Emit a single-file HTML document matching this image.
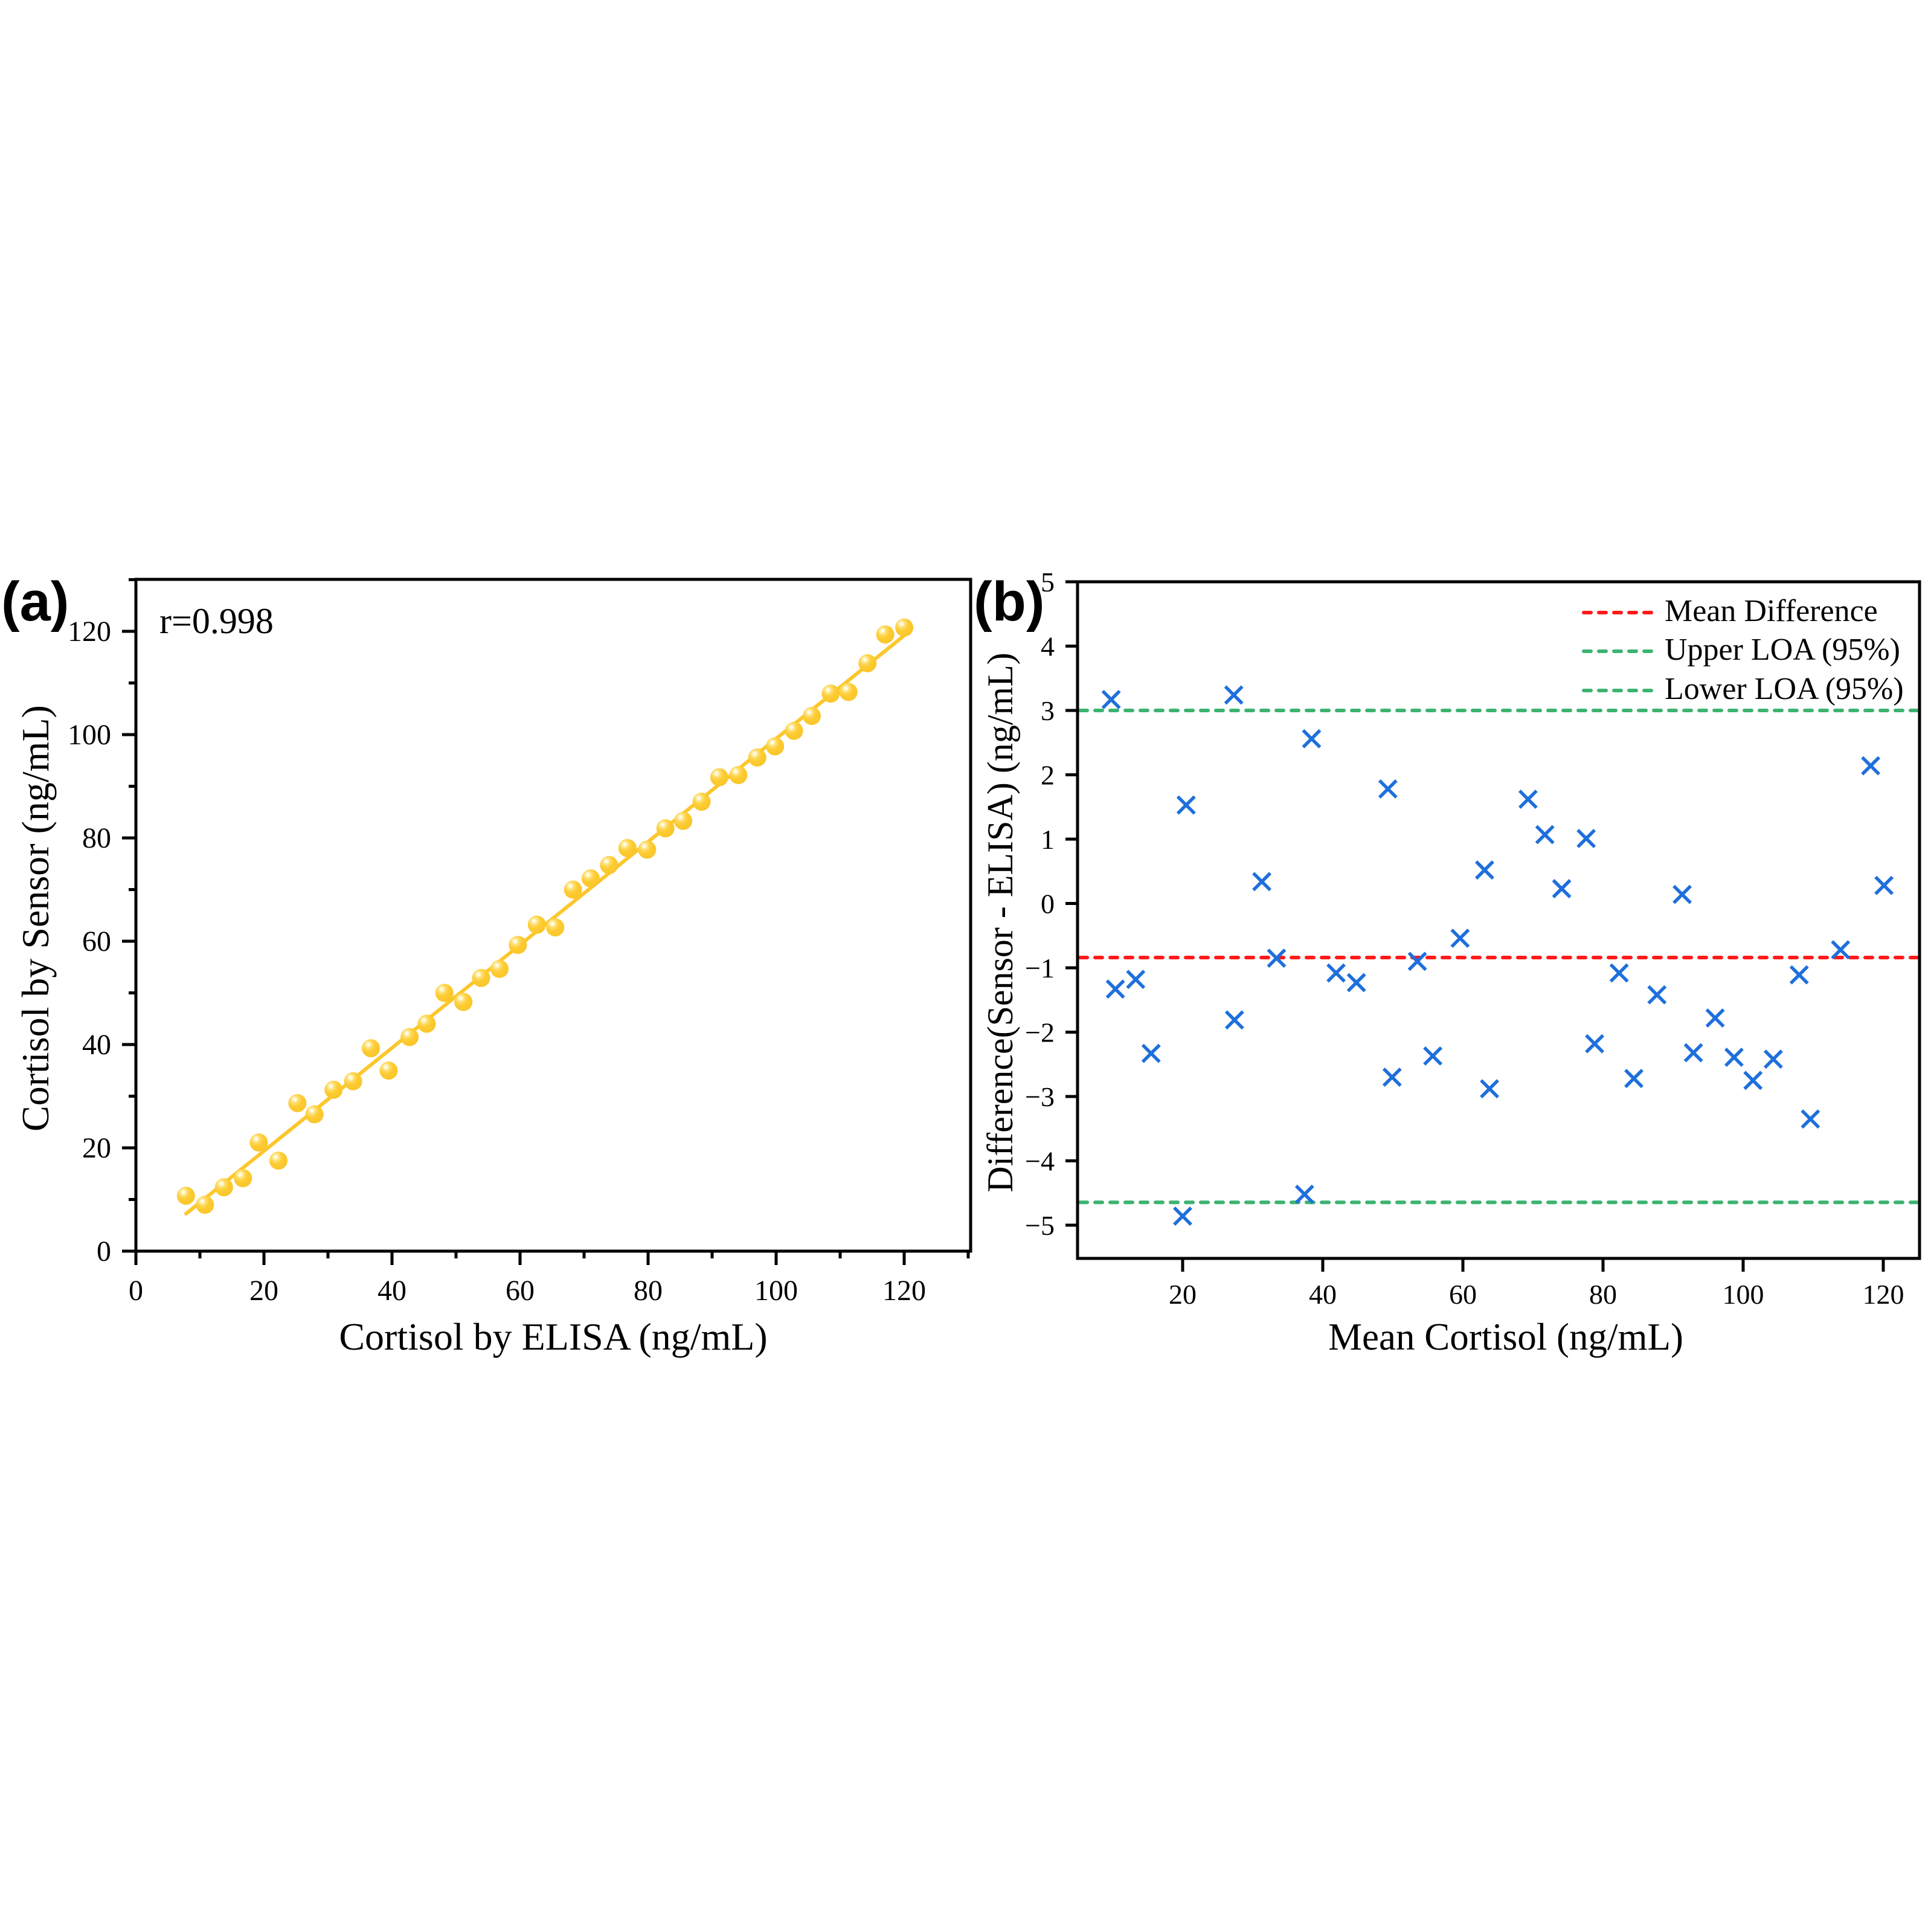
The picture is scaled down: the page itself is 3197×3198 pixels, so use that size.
<!DOCTYPE html>
<html><head><meta charset="utf-8"><style>
html,body{margin:0;padding:0;background:#fff;}
svg{display:block;}
text{font-family:"Liberation Serif",serif;fill:#000;}
</style></head><body>
<svg id="s" xmlns="http://www.w3.org/2000/svg" width="3197" height="3198" viewBox="0 0 3197 3198">
<defs>
<radialGradient id="g" cx="0.35" cy="0.3" r="0.75">
<stop offset="0" stop-color="#ffffff"/>
<stop offset="0.12" stop-color="#fff6c8"/>
<stop offset="0.3" stop-color="#fedb66"/>
<stop offset="0.55" stop-color="#fdcb30"/>
<stop offset="1" stop-color="#f9c52a"/>
</radialGradient>
</defs>
<rect width="3197" height="3198" fill="#fff"/>
<g id="A"></g>
<g id="B"></g>
</svg>
<script>
var NS="http://www.w3.org/2000/svg";
function el(p,t,a,txt){var e=document.createElementNS(NS,t);for(var k in a)e.setAttribute(k,a[k]);if(txt!=null)e.textContent=txt;p.appendChild(e);return e;}
var A=document.getElementById('A'),B=document.getElementById('B');
var aL=225,aR=1607,aT=959,aB=2071;
function ax(v){return aL+v*10.6;} function ay(v){return aB-v*8.55;}
el(A,'line',{x1:308,y1:2009,x2:1497,y2:1052,stroke:'#fcc72c','stroke-width':6,'stroke-linecap':'round'});
var pa=[[292,1226],[322,1243],[352,1210],[382,1193],[407,1126],[438,1160],[468,1052],[495,1073],[525,1027],[556,1011],[584,949],[612,991],[645,928],[672,903],[700,845],[730,862],[758,817],[787,800],[816,755],[846,717],[875,722],[903,651],[931,630],[960,605],[989,573],[1020,576],[1049,536],[1077,522],[1106,486],[1134,440],[1164,436],[1194,403],[1222,382],[1252,353],[1280,325],[1310,283],[1338,280],[1368,226],[1396,172],[1426,159]];
pa.forEach(function(p){var x=225+(p[0]-213)*1.0487,y=2071-(1330-p[1])*0.8815;el(A,'circle',{cx:x,cy:y,r:15,fill:'url(#g)'});});
el(A,'rect',{x:aL,y:aT,width:aR-aL,height:aB-aT,fill:'none',stroke:'#000','stroke-width':5});
for(var v=0;v<=130;v+=10){var maj=v%20==0;var x=ax(v);el(A,'line',{x1:x,y1:aB,x2:x,y2:aB+(maj?23:12),stroke:'#000','stroke-width':5});
 if(maj&&v<=120)el(A,'text',{x:x,y:2152,'font-size':48,'text-anchor':'middle'},v);
 var y=ay(v);el(A,'line',{x1:aL,y1:y,x2:aL-(maj?23:12),y2:y,stroke:'#000','stroke-width':5});
 if(maj&&v<=120)el(A,'text',{x:184,y:y+16,'font-size':48,'text-anchor':'end'},v);}
el(A,'text',{x:916,y:2234,'font-size':64,'text-anchor':'middle'},'Cortisol by ELISA (ng/mL)');
el(A,'text',{x:0,y:0,'font-size':64,'text-anchor':'middle',transform:'translate(80,1520) rotate(-90)'},'Cortisol by Sensor (ng/mL)');
el(A,'text',{x:264,y:1048,'font-size':60},'r=0.998');
el(A,'text',{x:2,y:1027,'font-size':92,'font-weight':'bold',style:'font-family:"Liberation Sans",sans-serif'},'(a)');
var bL=1784,bR=3178,bT=963,bB=2083;
function bx(v){return 1958+(v-20)*11.6;} function by(v){return bT+(5-v)*106.5;}
[[by(3.0),'#3cb371'],[by(-4.645),'#3cb371'],[by(-0.84),'#ff1a1a']].forEach(function(l){el(B,'line',{x1:bL+4,y1:l[0],x2:bR-4,y2:l[0],stroke:l[1],'stroke-width':6,'stroke-dasharray':'12 13','stroke-linecap':'round'});});
var pb=[[9.8,3.17],[10.4,-1.33],[13.3,-1.18],[15.5,-2.33],[27.3,3.24],[27.4,-1.81],[20.5,1.53],[20,-4.86],[31.3,0.34],[33.4,-0.85],[38.4,2.56],[37.4,-4.52],[41.9,-1.08],[44.8,-1.23],[49.3,1.78],[49.9,-2.70],[53.5,-0.90],[55.7,-2.37],[59.6,-0.54],[63.1,0.52],[63.8,-2.88],[69.3,1.62],[71.7,1.07],[74.1,0.23],[77.6,1.01],[78.8,-2.18],[82.3,-1.08],[84.4,-2.72],[87.7,-1.42],[91.3,0.14],[92.9,-2.32],[96.0,-1.78],[98.7,-2.39],[101.4,-2.75],[104.3,-2.42],[108.0,-1.11],[109.6,-3.35],[113.9,-0.72],[118.2,2.14],[120.1,0.28]];
pb.forEach(function(p){var x=bx(p[0]),y=by(p[1]),d=14;el(B,'path',{d:'M'+(x-d)+' '+(y-d)+'L'+(x+d)+' '+(y+d)+'M'+(x-d)+' '+(y+d)+'L'+(x+d)+' '+(y-d),stroke:'#1e6fdc','stroke-width':5.5,fill:'none'});});
el(B,'rect',{x:bL,y:bT,width:bR-bL,height:bB-bT,fill:'none',stroke:'#000','stroke-width':5});
for(var v=-5;v<=5;v++){var y=by(v);el(B,'line',{x1:bL,y1:y,x2:bL-20,y2:y,stroke:'#000','stroke-width':5});
 el(B,'text',{x:1746,y:y+16,'font-size':46,'text-anchor':'end'},(v<0?'\u2212'+(-v):''+v));}
for(var v=20;v<=120;v+=20){var x=bx(v);el(B,'line',{x1:x,y1:bB,x2:x,y2:bB+22,stroke:'#000','stroke-width':5});
 el(B,'text',{x:x,y:2158,'font-size':46,'text-anchor':'middle'},v);}
el(B,'text',{x:2493,y:2234,'font-size':63,'text-anchor':'middle'},'Mean Cortisol (ng/mL)');
el(B,'text',{x:0,y:0,'font-size':60,'text-anchor':'middle',transform:'translate(1676,1527) rotate(-90)'},'Difference(Sensor - ELISA) (ng/mL)');
el(B,'text',{x:1612,y:1027,'font-size':92,'font-weight':'bold',style:'font-family:"Liberation Sans",sans-serif'},'(b)');
[['Mean Difference','#ff1a1a',1028],['Upper LOA (95%)','#3cb371',1092],['Lower LOA (95%)','#3cb371',1157]].forEach(function(r){
 el(B,'line',{x1:2622,y1:r[2]-14,x2:2735,y2:r[2]-14,stroke:r[1],'stroke-width':6,'stroke-dasharray':'12 13','stroke-linecap':'round'});
 el(B,'text',{x:2756,y:r[2],'font-size':52},r[0]);});
</script>
</body></html>
